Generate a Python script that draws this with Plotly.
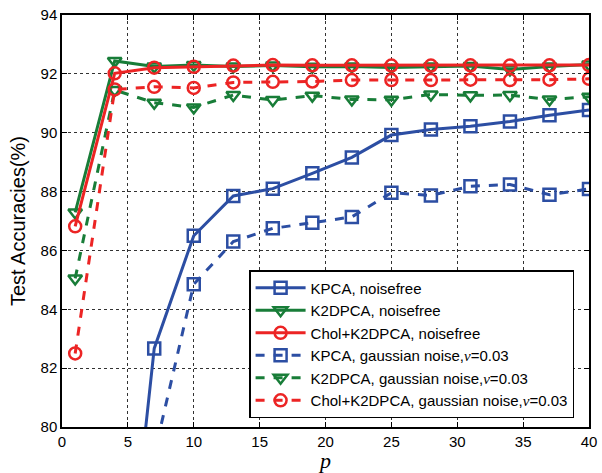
import plotly.graph_objects as go

p = [1, 4, 7, 10, 13, 16, 19, 22, 25, 28, 31, 34, 37, 40]

kpca_nf = [60.0, 70.2, 82.67, 86.5, 87.85, 88.1, 88.62, 89.16, 89.92, 90.11, 90.22, 90.38, 90.59, 90.77]
k2dpca_nf = [87.29, 92.44, 92.25, 92.3, 92.25, 92.28, 92.24, 92.25, 92.22, 92.25, 92.27, 92.15, 92.25, 92.32]
chol_nf = [86.82, 92.02, 92.21, 92.24, 92.28, 92.3, 92.29, 92.29, 92.28, 92.28, 92.29, 92.28, 92.29, 92.3]
kpca_gn = [62.0, 72.0, 79.06, 84.85, 86.3, 86.75, 86.94, 87.14, 87.96, 87.87, 88.18, 88.24, 87.89, 88.09]
k2dpca_gn = [85.05, 91.45, 91.02, 90.86, 91.28, 91.11, 91.26, 91.13, 91.12, 91.3, 91.27, 91.28, 91.13, 91.22]
chol_gn = [82.5, 91.47, 91.56, 91.52, 91.71, 91.73, 91.74, 91.79, 91.79, 91.79, 91.8, 91.79, 91.8, 91.83]

NU = "<span style='font-family:Liberation Serif'><i>ν</i></span>"
names = [
    "KPCA, noisefree",
    "K2DPCA, noisefree",
    "Chol+K2DPCA, noisefree",
    "KPCA, gaussian noise," + NU + "=0.03",
    "K2DPCA, gaussian noise," + NU + "=0.03",
    "Chol+K2DPCA, gaussian noise," + NU + "=0.03",
]

BLUE = "rgb(44,78,163)"
GREEN = "rgb(24,125,56)"
RED = "rgb(236,36,36)"

series = [
    (kpca_nf, BLUE, "solid", "square-open"),
    (k2dpca_nf, GREEN, "solid", "triangle-down-open"),
    (chol_nf, RED, "solid", "circle-open"),
    (kpca_gn, BLUE, "dash", "square-open"),
    (k2dpca_gn, GREEN, "dash", "triangle-down-open"),
    (chol_gn, RED, "dash", "circle-open"),
]

fig = go.Figure()
for (vals, col, dash, sym), nm in zip(series, names):
    fig.add_trace(go.Scatter(
        x=p, y=vals, name=nm, mode="lines+markers",
        line=dict(color=col, width=3, dash=dash),
        marker=dict(symbol=sym, size=12, color=col, line=dict(width=2.5, color=col)),
    ))

axis_common = dict(
    showline=True, linecolor="black", linewidth=1.5, mirror="ticks",
    ticks="inside", ticklen=5, tickcolor="black", tickwidth=1,
    showgrid=True, gridcolor="rgb(50,50,50)", griddash="dot", gridwidth=1,
    zeroline=False, automargin=False,
    tickfont=dict(family="Arial, Liberation Sans", size=15, color="black"),
)

fig.update_xaxes(range=[0, 40], tickmode="linear", tick0=0, dtick=5,
                 title=dict(text="<i>p</i>", font=dict(family="Liberation Serif", size=22, color="black"), standoff=3),
                 **axis_common)
fig.update_yaxes(range=[80, 94], tickmode="linear", tick0=80, dtick=2,
                 title=dict(text="Test Accuracies(%)", font=dict(family="Arial, Liberation Sans", size=20, color="black"), standoff=10),
                 **axis_common)

fig.update_layout(
    width=602, height=473,
    margin=dict(l=62, r=13, t=15, b=46, autoexpand=False),
    paper_bgcolor="white", plot_bgcolor="white",
    legend=dict(
        x=0.355, y=0.381, xanchor="left", yanchor="top",
        bgcolor="white", bordercolor="black", borderwidth=1.5,
        font=dict(family="Arial, Liberation Sans", size=15, color="black"),
        tracegroupgap=0, itemwidth=50,
    ),
    showlegend=True,
)

fig.write_html("out.html")
